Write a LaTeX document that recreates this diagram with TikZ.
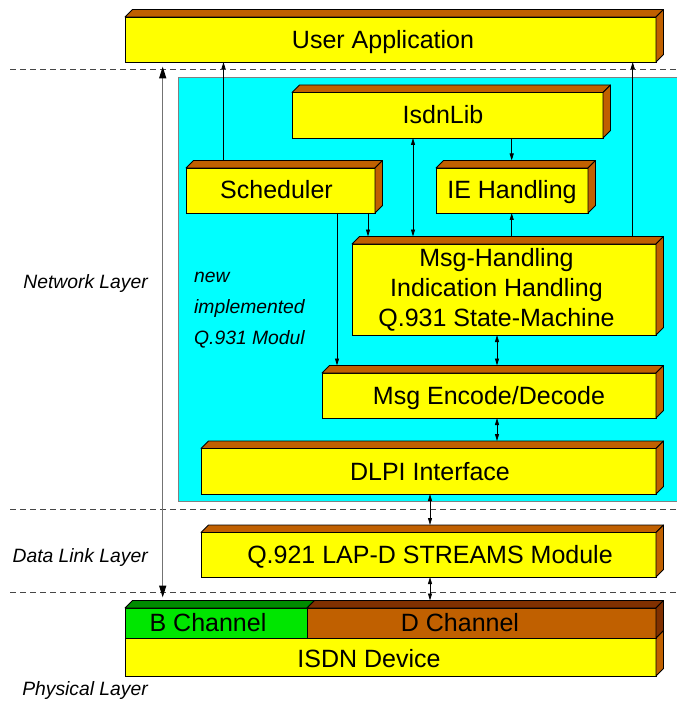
\documentclass[tikz,border=0pt]{standalone}
\usepackage{fontspec}
\setmainfont{Liberation Sans}
\usetikzlibrary{arrows.meta,calc}
\definecolor{ylw}{RGB}{255,255,0}
\definecolor{brn}{RGB}{192,96,0}
\definecolor{dbrn}{RGB}{128,48,0}
\definecolor{grn}{RGB}{0,230,0}
\definecolor{dgrn}{RGB}{0,140,0}
\definecolor{cyn}{RGB}{0,255,255}
\definecolor{dashc}{RGB}{70,70,70}
\newcommand{\dd}{7.5pt}
% front face node
\newcommand{\frontface}[6]{%
  \node[frontbox, fill=#6, minimum width=#4pt, minimum height=#5pt, anchor=north west] (#1) at (#2,#3) {};
  \coordinate (#1-bt) at ([shift={(\dd,\dd)}]#1.north);}
\newcommand{\topface}[2]{%
  \filldraw[facebox, fill=#2] (#1.north west) -- ++(\dd,\dd) -- ([shift={(\dd,\dd)}]#1.north east) -- (#1.north east) -- cycle;}
\newcommand{\sideface}[2]{%
  \filldraw[facebox, fill=#2] (#1.north east) -- ++(\dd,\dd) -- ([shift={(\dd,\dd)}]#1.south east) -- (#1.south east) -- cycle;}
\newcommand{\tdbox}[5]{%
  \frontface{#1}{#2}{#3}{#4}{#5}{ylw}\topface{#1}{brn}\sideface{#1}{brn}}
\begin{document}
\begin{tikzpicture}[x=1pt,y=-1pt,
  frontbox/.style={draw=black, line width=0.8pt, inner sep=0pt, outer sep=0pt, rectangle},
  facebox/.style={draw=black, line width=0.8pt, line join=round},
  lbl/.style={font=\fontsize{25}{30}\selectfont, inner sep=0pt, anchor=base, align=center},
  ital/.style={font=\fontsize{19.3}{31}\selectfont\itshape, inner sep=0pt},
  con/.style={line width=0.8pt, black},
  tip/.tip={Triangle[length=7pt,width=4pt]},
  bigtip/.tip={Triangle[length=12pt,width=7pt,color=black]},
  sep/.style={draw=dashc, line width=0.8pt, dash pattern=on 6pt off 4pt}]
\useasboundingbox (0,0) rectangle (677,703);
% background module area
\fill[cyn] (178,77) rectangle (677,501);
\draw[gray, line width=0.8pt] (677,77) -- (178,77) -- (178,501) -- (677,501);
% layer separators
\draw[sep] (10,69.3) -- (677,69.3);
\draw[sep] (10,509.3) -- (677,509.3);
\draw[sep] (10,592.5) -- (677,592.5);
% boxes
\tdbox{ua}{125}{17}{531}{45}
\tdbox{lib}{292}{92.5}{311}{45.5}
\tdbox{sched}{186}{168}{189}{45}
\tdbox{ie}{436}{168}{152}{45}
\tdbox{msg}{352}{244}{304}{91}
\tdbox{enc}{322}{373}{334}{45}
\tdbox{dlpi}{201}{448.5}{455}{45.5}
\tdbox{lapd}{201}{532.5}{455}{44.5}
% ISDN device stack
\frontface{isdn}{125}{638}{531}{38}{ylw}\sideface{isdn}{brn}
\frontface{bch}{125}{608}{182}{30}{grn}\topface{bch}{dgrn}
\frontface{dch}{307}{608}{349}{30}{brn}\topface{dch}{dbrn}\sideface{dch}{dbrn}
% labels
\node[lbl] (t-ua) at (383,48.3) {User Application};
\node[lbl] (t-lib) at (443,124) {IsdnLib};
\node[lbl] (t-sched) at (276.5,199) {Scheduler};
\node[lbl] (t-ie) at (512,199) {IE Handling};
\node[lbl] (t-msg) at (496.5,326) {Msg-Handling\\Indication Handling\\Q.931 State-Machine};
\node[lbl] (t-enc) at (489,404) {Msg Encode/Decode};
\node[lbl] (t-dlpi) at (430,480) {DLPI Interface};
\node[lbl] (t-lapd) at (430,563.5) {Q.921 LAP-D STREAMS Module};
\node[lbl] (t-bch) at (208,631.5) {B Channel};
\node[lbl] (t-dch) at (460,631.5) {D Channel};
\node[lbl] (t-isdn) at (369,667) {ISDN Device};
\node[ital, anchor=base east] (l-net) at (148,288) {Network Layer};
\node[ital, anchor=base east] (l-dl) at (148,562) {Data Link Layer};
\node[ital, anchor=base east] (l-ph) at (148,695) {Physical Layer};
\node[ital, anchor=base west, align=left] (l-new) at (194,344) {new\\implemented\\Q.931 Modul};
% connectors
\draw[con,-tip] (223.5,0 |- sched-bt) -- (223.5,0 |- ua.south);
\draw[con,-tip] (632.7,0 |- msg-bt) -- (632.7,0 |- ua.south);
\draw[con,tip-tip] (413,0 |- lib.south) -- (413,0 |- msg-bt);
\draw[con,-tip] (511.7,0 |- lib.south) -- (511.7,0 |- ie-bt);
\draw[con,-tip] (511.7,0 |- msg-bt) -- (511.7,0 |- ie.south);
\draw[con,-tip] (368,0 |- sched.south) -- (368,0 |- msg-bt);
\draw[con,-tip] (337,0 |- sched.south) -- (337,0 |- enc-bt);
\draw[con,tip-tip] (497,0 |- msg.south) -- (497,0 |- enc-bt);
\draw[con,tip-tip] (497,0 |- enc.south) -- (497,0 |- dlpi-bt);
\draw[con,tip-tip] (430,0 |- dlpi.south) -- (430,0 |- lapd-bt);
\draw[con,tip-tip] (430,0 |- lapd.south) -- (430,0 |- dch-bt);
\draw[line width=1.5pt, black!55, bigtip-bigtip, shorten <=4.5pt, shorten >=3pt] (162.7,0 |- ua.south) -- (162.7,0 |- bch-bt);
\end{tikzpicture}
\end{document}
